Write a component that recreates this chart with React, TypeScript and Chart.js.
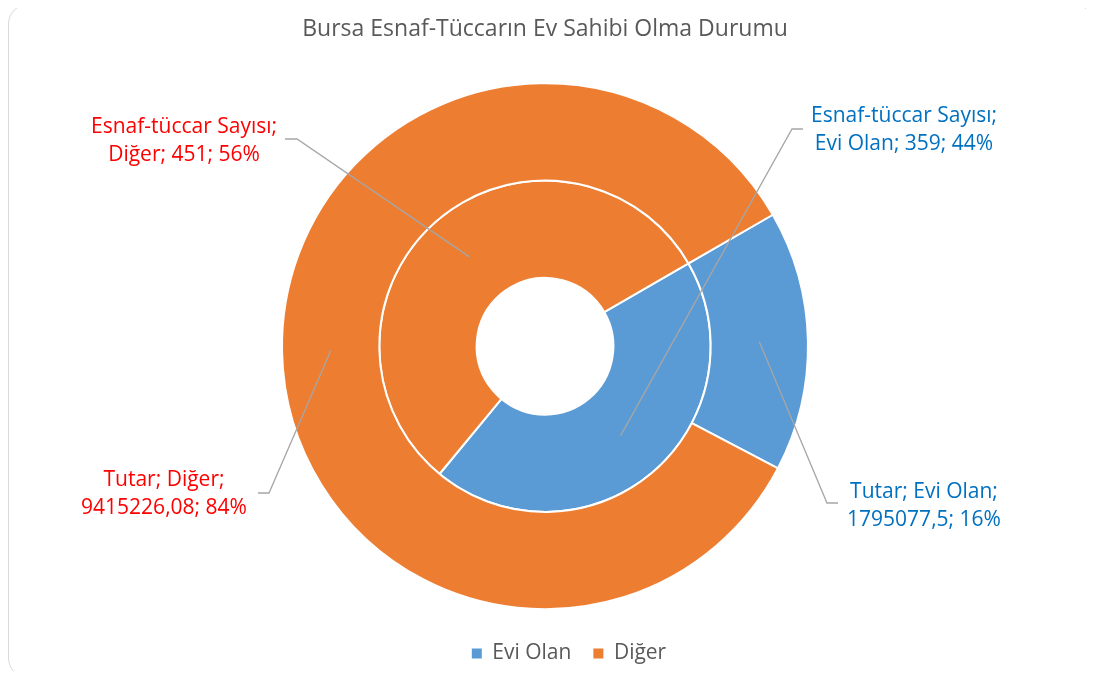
import React, { useEffect, useRef } from 'react';
import { Chart, registerables } from 'chart.js';

Chart.register(...registerables);

// ---- data ----
const categories = ['Evi Olan', 'Diğer'];
const seriesNames = ['Tutar', 'Esnaf-tüccar Sayısı'];
const tutarValues = [1795077.5, 9415226.08];
const sayiValues = [359, 451];
const chartTitle = 'Bursa Esnaf-Tüccarın Ev Sahibi Olma Durumu';

// ---- styles / layout ----
const sliceColors = ['#5B9BD5', '#ED7D31'];
const labelColors = ['#0070C0', '#FF0000'];
const FONT = '"Open Sans", Lato, sans-serif';
const W = 1094;
const H = 679;
const LEGEND_SHIFT_X = 24;

// label placement per [datasetIndex][pointIndex]
const labelLayout = [
  [
    { x: 924, y: 506, elbowX: 827, elbowY: 503, endX: 838 },
    { x: 164, y: 494, elbowX: 269, elbowY: 493, endX: 258 },
  ],
  [
    { x: 904, y: 130, elbowX: 792, elbowY: 129, endX: 803 },
    { x: 184, y: 141, elbowX: 297, elbowY: 139, endX: 285 },
  ],
];

const fmt = (v: number) => String(v).replace('.', ',');

function labelLines(ds: number, i: number): string[] {
  const vals = ds === 0 ? tutarValues : sayiValues;
  const sum = vals.reduce((a, b) => a + b, 0);
  const pct = Math.round((vals[i] / sum) * 100) + '%';
  const s = seriesNames[ds];
  const c = categories[i];
  if (ds === 0) return [`${s}; ${c};`, `${fmt(vals[i])}; ${pct}`];
  return [`${s};`, `${c}; ${fmt(vals[i])}; ${pct}`];
}

const calloutPlugin = {
  id: 'callouts',
  afterLayout(chart: any) {
    if (chart.legend) {
      chart.legend.left += LEGEND_SHIFT_X;
      chart.legend.right += LEGEND_SHIFT_X;
    }
  },
  afterDatasetsDraw(chart: any) {
    const ctx = chart.ctx;
    ctx.save();
    chart.data.datasets.forEach((_d: any, ds: number) => {
      const meta = chart.getDatasetMeta(ds);
      meta.data.forEach((arc: any, i: number) => {
        const p = arc.getCenterPoint();
        const L = labelLayout[ds][i];
        ctx.strokeStyle = '#A6A6A6';
        ctx.lineWidth = 1.3;
        ctx.beginPath();
        ctx.moveTo(p.x, p.y);
        ctx.lineTo(L.elbowX, L.elbowY);
        ctx.lineTo(L.endX, L.elbowY);
        ctx.stroke();
        const lines = labelLines(ds, i);
        ctx.fillStyle = labelColors[i];
        ctx.font = `21px ${FONT}`;
        ctx.textAlign = 'center';
        ctx.textBaseline = 'middle';
        const lh = 28;
        lines.forEach((t, k) => {
          ctx.fillText(t, L.x, L.y + (k - (lines.length - 1) / 2) * lh);
        });
      });
    });
    ctx.restore();
  },
};

export default function App() {
  const ref = useRef<HTMLCanvasElement>(null);
  useEffect(() => {
    if (!ref.current) return;
    const chart = new Chart(ref.current, {
      type: 'doughnut',
      data: {
        labels: categories,
        datasets: [
          {
            label: seriesNames[0],
            data: tutarValues,
            backgroundColor: sliceColors,
            borderColor: '#FFFFFF',
            borderWidth: 2,
            rotation: 60,
          } as any,
          {
            label: seriesNames[1],
            data: sayiValues,
            backgroundColor: sliceColors,
            borderColor: '#FFFFFF',
            borderWidth: 2,
            rotation: 60,
          } as any,
        ],
      },
      options: {
        responsive: false,
        animation: false,
        devicePixelRatio: 1,
        radius: 263,
        cutout: '26%',
        layout: { padding: { top: 0, bottom: 5, left: 0, right: 4 } },
        plugins: {
          title: {
            display: true,
            text: chartTitle,
            color: '#595959',
            font: { family: FONT, size: 23, weight: 'normal' },
            padding: { top: 16, bottom: 27.9 },
          },
          legend: {
            position: 'bottom',
            labels: {
              color: '#595959',
              font: { family: FONT, size: 21 },
              boxWidth: 10,
              boxHeight: 10,
              padding: 22,
              generateLabels: (c: any) =>
                Chart.overrides.doughnut.plugins.legend.labels
                  .generateLabels(c)
                  .map((l: any) => ({ ...l, lineWidth: 0 })),
            },
          },
          tooltip: { enabled: false },
        },
      } as any,
      plugins: [calloutPlugin],
    });
    return () => chart.destroy();
  }, []);

  return (
    <div style={{ position: 'relative', width: W, height: H, margin: -8 }}>
      <div
        style={{
          position: 'absolute',
          left: 8,
          top: 4,
          width: 1086,
          height: 674,
          boxSizing: 'border-box',
          border: '1.5px solid #D9D9D9',
          borderRadius: 20,
          background: '#FFFFFF',
        }}
      />
      <canvas
        ref={ref}
        width={W}
        height={H}
        style={{ position: 'absolute', left: 0, top: 0, width: W, height: H }}
      />
    </div>
  );
}
